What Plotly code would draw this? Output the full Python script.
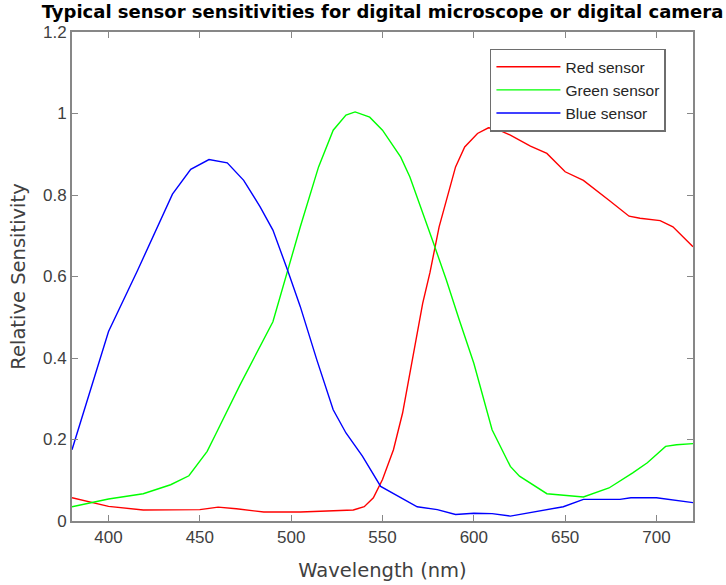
import plotly.graph_objects as go

# Wavelengths (nm) and relative sensitivity of each colour channel
red_nm = [380, 400, 419, 435, 450, 460, 470, 485, 505, 516, 534, 540, 545, 550, 556,
          561, 567, 572, 576, 581, 590, 595, 602, 608, 612, 620, 631, 640, 650, 660,
          674, 685, 691, 702, 709, 720]
red_val = [0.057, 0.036, 0.027, 0.028, 0.028, 0.034, 0.030, 0.022, 0.022, 0.024, 0.027,
           0.035, 0.057, 0.102, 0.175, 0.265, 0.412, 0.534, 0.610, 0.722, 0.869, 0.918,
           0.951, 0.965, 0.963, 0.947, 0.920, 0.902, 0.857, 0.836, 0.787, 0.748, 0.743,
           0.737, 0.722, 0.673]

green_nm = [380, 400, 419, 434, 444, 454, 459, 472, 490, 498, 505, 515, 523, 530, 535,
            543, 550, 560, 565, 578, 585, 592, 600, 610, 620, 625, 640, 660, 674, 687,
            695, 705, 711, 720]
green_val = [0.035, 0.054, 0.067, 0.089, 0.111, 0.171, 0.216, 0.334, 0.489, 0.616, 0.722,
             0.869, 0.959, 0.996, 1.004, 0.991, 0.959, 0.893, 0.844, 0.681, 0.591, 0.494,
             0.387, 0.224, 0.134, 0.110, 0.067, 0.059, 0.081, 0.118, 0.143, 0.183, 0.187,
             0.190]

blue_nm = [380, 400, 416, 435, 445, 455, 465, 474, 483, 490, 498, 505, 514, 523, 530,
           539, 549, 560, 569, 580, 590, 600, 610, 620, 630, 640, 649, 660, 680, 686,
           700, 720]
blue_val = [0.175, 0.465, 0.616, 0.802, 0.863, 0.887, 0.879, 0.836, 0.771, 0.714, 0.616,
            0.526, 0.396, 0.273, 0.216, 0.159, 0.085, 0.057, 0.035, 0.028, 0.016, 0.019,
            0.018, 0.012, 0.020, 0.028, 0.035, 0.053, 0.053, 0.057, 0.057, 0.045]

x_ticks = [400, 450, 500, 550, 600, 650, 700]
y_ticks = [0, 0.2, 0.4, 0.6, 0.8, 1, 1.2]
y_tick_text = ["0", "0.2", "0.4", "0.6", "0.8", "1", "1.2"]

FONT = "Liberation Sans, Arial, sans-serif"
WIDE_FONT = "DejaVu Sans, sans-serif"
AXIS_GREY = "#878787"
TEXT_GREY = "#404040"

fig = go.Figure()
for name, xs, ys, col in [
    ("Red sensor", red_nm, red_val, "#ff0000"),
    ("Green sensor", green_nm, green_val, "#00ff00"),
    ("Blue sensor", blue_nm, blue_val, "#0000ff"),
]:
    fig.add_trace(go.Scatter(x=xs, y=ys, mode="lines", name=name,
                             line=dict(color=col, width=1.4)))

axis_common = dict(
    showline=True, linecolor=AXIS_GREY, linewidth=2, mirror="ticks",
    ticks="inside", ticklen=6, tickwidth=1.2, tickcolor=AXIS_GREY,
    showgrid=False, zeroline=False, automargin=False,
    tickfont=dict(family=FONT, size=17, color=TEXT_GREY),
)

fig.update_xaxes(range=[380, 720], tickvals=x_ticks,
                 title=dict(text="Wavelength (nm)", standoff=17,
                            font=dict(family=WIDE_FONT, size=19.5, color=TEXT_GREY)),
                 **axis_common)
fig.update_yaxes(range=[0, 1.2], tickvals=y_ticks, ticktext=y_tick_text,
                 title=dict(text="Relative Sensitivity", standoff=12,
                            font=dict(family=WIDE_FONT, size=19.5, color=TEXT_GREY)),
                 **axis_common)

fig.update_layout(
    width=726, height=585,
    margin=dict(l=72, r=33, t=32, b=64),
    paper_bgcolor="white", plot_bgcolor="white",
    title=dict(text="<b>Typical sensor sensitivities for digital microscope or digital camera</b>",
               xref="paper", x=0.5, xanchor="center",
               yref="container", y=1 - 11.5 / 585, yanchor="middle",
               font=dict(family=WIDE_FONT, size=18, color="#000000")),
    legend=dict(x=0.673, y=0.966, xanchor="left", yanchor="top",
                bordercolor="#6e6e6e", borderwidth=1.5, bgcolor="white",
                font=dict(family=FONT, size=15.5, color="#262626"),
                tracegroupgap=0, itemwidth=64),
    showlegend=True,
)

fig.write_html("out.html")
